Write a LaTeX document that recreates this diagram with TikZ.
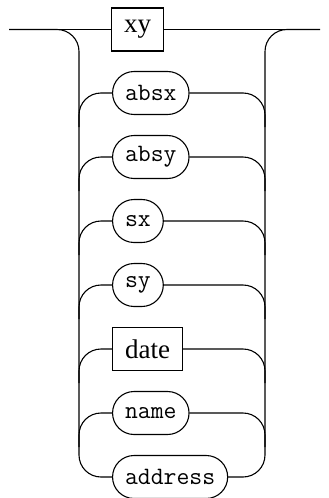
\documentclass[tikz,border=0pt]{standalone}
\usepackage{fontspec}
\setmainfont{Liberation Serif}
\begin{document}
\begin{tikzpicture}[x=1pt,y=-1pt,
  line width=1.1pt,
  every node/.style={anchor=west,minimum height=43pt,inner xsep=12.5pt,inner ysep=0pt,draw},
  nonterm/.style={font=\fontsize{27}{29}\selectfont},
  term/.style={rounded corners=21.5pt,font=\fontsize{25}{27}\selectfont\ttfamily},
  rail/.style={rounded corners=22pt}]
\useasboundingbox (0,0) rectangle (329,498);
\node[nonterm] (xy) at (111,29.5) {xy};
\node[term] (absx) at (112,93) {absx};
\node[term] (absy) at (112,157) {absy};
\node[term] (sx) at (112,221) {sx};
\node[term] (sy) at (112,285) {sy};
\node[nonterm] (date) at (112,349) {date};
\node[term] (name) at (112,413) {name};
\node[term] (address) at (112,477) {address};
\coordinate (in) at (9,29.5);
\coordinate (out) at (320,29.5);
\coordinate (lt) at (79,29.5);
\coordinate (rt) at (265,29.5);
\draw (in) -- (xy.west);
\draw (xy.east) -- (out);
\draw[rail] (in) -| (address.west -| lt) -- (address.west);
\draw[rail] (address.east) -| (rt) -- (out);
\foreach \n in {absx,absy,sx,sy,date,name}{
  \draw[rail] ([yshift=-34pt]\n.west -| lt) |- (\n.west);
  \draw[rail] (\n.east) -| ([yshift=-34pt]\n.east -| rt);
}
\end{tikzpicture}
\end{document}
